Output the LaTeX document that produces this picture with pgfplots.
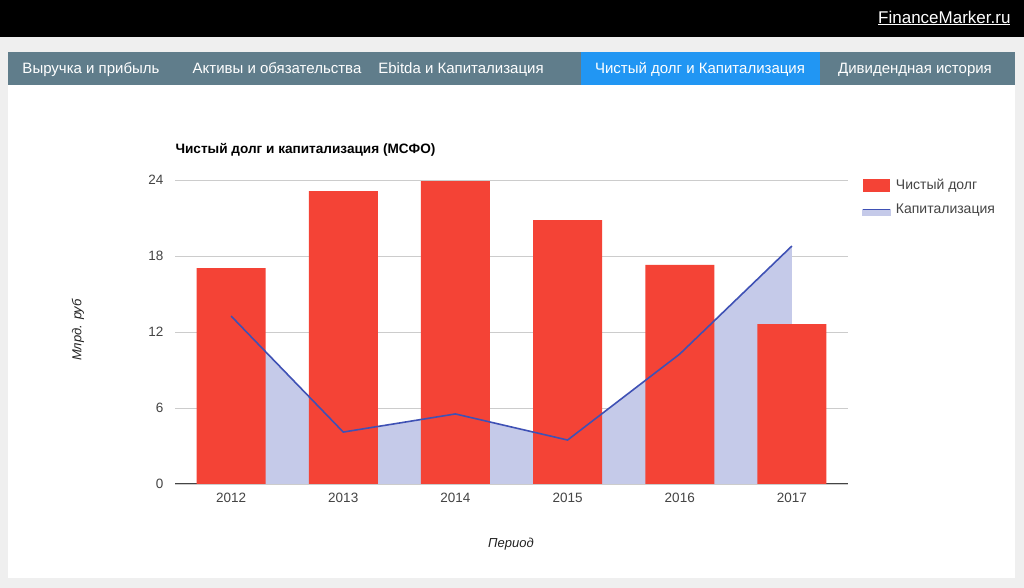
\documentclass[border=0pt]{standalone}
\usepackage{fontspec}
\setmainfont{Liberation Sans}
\usepackage{pgfplots}
\pgfplotsset{compat=1.18}
\definecolor{debtred}{HTML}{F44336}
\definecolor{capline}{HTML}{3F51B5}
\definecolor{capfill}{HTML}{C5CAE9}
\definecolor{tabgray}{HTML}{607D8B}
\definecolor{tabblue}{HTML}{2196F3}
\definecolor{pagegray}{HTML}{EFEFEF}
\definecolor{labelgray}{HTML}{444444}
\definecolor{gridgray}{HTML}{CCCCCC}
\definecolor{titlecol}{HTML}{222222}

\newcommand{\px}[1]{\fontsize{#1}{#1}\selectfont}

\begin{document}
\begin{tikzpicture}[x=1pt,y=1pt]
\path[use as bounding box] (0,0) rectangle (1024,588);
\fill[pagegray] (0,0) rectangle (1024,588);
% header and tab bar
\fill[black] (0,551) rectangle (1024,588);
\fill[white] (8,10) rectangle (1015,503);
\fill[tabgray] (8,503) rectangle (1015,536);
\fill[tabblue] (581,503) rectangle (820,536);
\node[anchor=east, text=white, font=\px{17}] at (1014,570) {\underline{FinanceMarker.ru}};
\begin{scope}[every node/.style={text=white, font=\px{15}, anchor=base}]
  \node at (91,514) {Выручка и прибыль};
  \node at (277,514) {Активы и обязательства};
  \node at (461,514) {Ebitda и Капитализация};
  \node at (700,514) {Чистый долг и Капитализация};
  \node at (915,514) {Дивидендная история};
\end{scope}

% titles
\node[anchor=west, text=black, font=\px{13.6}\bfseries] at (172,438) {Чистый долг и капитализация (МСФО)};
\node[rotate=90, text=titlecol, font=\px{13}\itshape] at (78,258) {Млрд. руб};
\node[text=titlecol, font=\px{13}\itshape] at (511,44) {Период};

\begin{axis}[
    at={(175pt,104pt)}, anchor=south west,
    scale only axis,
    width=673pt, height=304pt,
    xmin=-0.5, xmax=5.5,
    ymin=0, ymax=24,
    xtick={0,1,2,3,4,5},
    xticklabels={2012,2013,2014,2015,2016,2017},
    ytick={0,6,12,18,24},
    major tick length=0pt,
    ymajorgrids,
    grid style={gridgray, line width=0.8pt},
    axis x line*=bottom, axis y line*=left,
    separate axis lines,
    x axis line style={draw=labelgray, line width=1pt, -},
    y axis line style={draw=none},
    tick label style={font=\px{13.5}, text=labelgray},
    /pgf/number format/assume math mode=true,
    xticklabel style={yshift=-6pt},
    yticklabel style={xshift=-8pt},
    legend style={at={(rel axis cs:1.021,1.01)}, anchor=north west,
        draw=none, fill=none, font=\px{14}, text=labelgray,
        row sep=9pt, inner sep=0pt, cells={anchor=west}},
]
% capitalization area (behind the bars)
\addplot[fill=capfill, draw=none, forget plot] coordinates {
    (0,13.26) (1,4.10) (2,5.53) (3,3.47) (4,10.26) (5,18.79)
} \closedcycle;

% net debt bars
\addplot[ybar, bar shift=0pt, bar width=69pt, fill=debtred, draw=none,
    legend image code/.code={\fill[debtred] (0pt,-6.5pt) rectangle (27pt,6.5pt);}]
coordinates {
    (0,17.05) (1,23.13) (2,23.92) (3,20.84) (4,17.29) (5,12.63)
};
\addlegendentry{\hspace{3pt}Чистый долг}

% capitalization line
\addplot[capline, line width=1.6pt, mark=none,
    legend image code/.code={
        \fill[capfill] (0pt,-6pt) rectangle (27pt,0pt);
        \draw[capline, line width=1.6pt] (0pt,0pt) -- (27pt,0pt);}]
coordinates {
    (0,13.26) (1,4.10) (2,5.53) (3,3.47) (4,10.26) (5,18.79)
};
\addlegendentry{\hspace{3pt}Капитализация}
\end{axis}
\end{tikzpicture}
\end{document}
